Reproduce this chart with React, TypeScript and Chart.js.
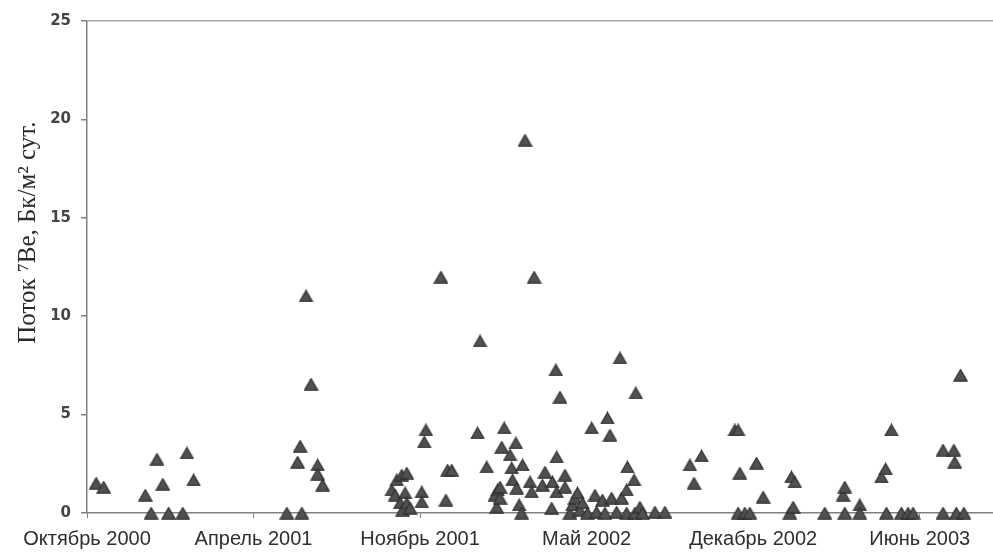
import React, { useEffect, useRef } from "react";
import { Chart, registerables } from "chart.js";

Chart.register(...registerables);

// Axis labels (one every 200 days from October 2000)
const tickLabels = ["Октябрь 2000", "Апрель 2001", "Ноябрь 2001", "Май 2002", "Декабрь 2002", "Июнь 2003"];
const tickStepDays = 200;
const xMaxDays = 1088;
const yTicks = [0, 5, 10, 15, 20, 25];
const yTitle = "Поток ⁷Be, Бк/м² сут.";

// Sampling day (days since the first axis tick)
const days = [
  11, 20, 70, 77, 84, 91, 98, 115, 120, 128,
  240, 253, 256, 258, 263, 269, 277, 277, 283,
  366, 370, 372, 376, 378, 379, 382, 384, 384, 388,
  402, 402, 405, 407, 425, 431, 433, 438,
  469, 472, 480, 490, 492, 493, 496, 496, 498, 501,
  508, 510, 511, 515, 516, 519, 522, 523, 526,
  532, 534, 537, 547, 550, 558, 559, 563, 564, 564, 568,
  574, 574, 580, 583, 586, 589, 592, 595,
  601, 606, 610, 612, 619, 622, 625, 628, 630, 636, 640, 642, 648, 648, 649,
  657, 658, 659, 664, 667, 682, 694,
  724, 729, 738, 778, 782, 782, 784, 790, 796, 804, 812,
  844, 846, 848, 850, 886, 908, 910, 910, 928, 928,
  954, 959, 960, 966, 978, 986, 992,
  1028, 1028, 1041, 1042, 1044, 1049, 1053,
];

// 7Be flux, Bq/m2 per day
const flux = [
  1.52, 1.32, 0.91, 0, 2.74, 1.47, 0, 0, 3.05, 1.68,
  0, 2.59, 3.4, 0, 11.03, 6.55, 2.44, 1.98, 1.42,
  1.17, 0.91, 1.68, 0.51, 1.93, 0.15, 1.02, 2.03, 0.51, 0.25,
  1.07, 0.56, 3.61, 4.22, 11.99, 0.66, 2.18, 2.18,
  4.07, 8.74, 2.34, 0.91, 0.3, 1.17, 1.32, 0.76, 3.35, 4.32,
  2.95, 2.29, 1.68, 3.56, 1.27, 0.41, 0, 2.44, 18.95,
  1.58, 1.07, 11.99, 1.42, 2.08, 0.25, 1.58, 7.27, 1.07, 2.85, 5.89,
  1.93, 1.32, 0, 0.41, 0.76, 1.02, 0.15, 0.51,
  0, 4.32, 0.91, 0.05, 0.66, 0, 4.83, 3.96, 0.76, 0.05, 7.88, 0.76, 1.17, 0, 2.34,
  1.68, 0, 6.1, 0.3, 0, 0.05, 0.05,
  2.44, 1.52, 2.9, 4.22, 4.22, 0, 2.03, 0, 0, 2.54, 0.81,
  0, 1.83, 0.3, 1.58, 0, 0.91, 1.32, 0, 0.41, 0,
  1.83, 2.24, 0, 4.22, 0, 0, 0,
  3.2, 0, 3.2, 2.59, 0, 7.01, 0,
];

function makeTriangle(): HTMLCanvasElement {
  const c = document.createElement("canvas");
  c.width = 15;
  c.height = 13;
  const g = c.getContext("2d")!;
  g.beginPath();
  g.moveTo(1, 12.2);
  g.lineTo(7.5, 1);
  g.lineTo(14, 12.2);
  g.closePath();
  g.fillStyle = "#515151";
  g.fill();
  g.lineWidth = 1.2;
  g.strokeStyle = "#2f2f2f";
  g.stroke();
  return c;
}

const yTitlePlugin = {
  id: "yTitlePlugin",
  afterDraw(chart: any) {
    const { ctx, chartArea } = chart;
    const cy = chartArea.top + (chartArea.bottom - chartArea.top) * 0.43;
    ctx.save();
    ctx.translate(28, cy);
    ctx.rotate(-Math.PI / 2);
    ctx.font = '25px "Liberation Serif"';
    ctx.fillStyle = "#2a2a2a";
    ctx.textAlign = "center";
    ctx.textBaseline = "middle";
    ctx.fillText(yTitle, 0, 0);
    ctx.restore();
  },
};

export default function App() {
  const ref = useRef<HTMLCanvasElement | null>(null);

  useEffect(() => {
    if (!ref.current) return;
    const tri = makeTriangle();
    const chart = new Chart(ref.current, {
      type: "scatter",
      data: {
        datasets: [
          {
            data: days.map((d, i) => ({ x: d, y: flux[i] })),
            pointStyle: tri as any,
            pointRadius: 7,
            clip: false as any,
          },
        ],
      },
      options: {
        animation: false,
        responsive: false,
        devicePixelRatio: 1,
        layout: { autoPadding: false, padding: { top: 21, right: 0, left: 0, bottom: 0 } },
        plugins: { legend: { display: false }, tooltip: { enabled: false } },
        scales: {
          x: {
            type: "linear",
            min: 0,
            max: xMaxDays,
            afterBuildTicks: (s: any) => {
              s.ticks = tickLabels.map((_, i) => ({ value: i * tickStepDays }));
            },
            afterFit: (s: any) => {
              s.height = 40;
              s.paddingLeft = 0;
              s.paddingRight = 0;
            },
            ticks: {
              autoSkip: false,
              maxRotation: 0,
              padding: 9,
              color: "#2e2e2e",
              font: { family: "Liberation Sans", size: 20 },
              callback: (v: any) => tickLabels[Math.round(Number(v) / tickStepDays)] ?? "",
            },
            grid: { drawOnChartArea: false, drawTicks: true, tickLength: 5, tickColor: "#808080" },
            border: { color: "#808080", width: 1.5 },
          },
          y: {
            min: yTicks[0],
            max: yTicks[yTicks.length - 1],
            afterBuildTicks: (s: any) => {
              s.ticks = yTicks.map((v) => ({ value: v }));
            },
            afterFit: (s: any) => {
              s.width = 87;
            },
            ticks: {
              padding: 10,
              color: "#444",
              font: { family: "DejaVu Sans", size: 15, weight: "bold" },
            },
            grid: {
              color: (c: any) => (c.tick && c.tick.value === 25 ? "#a8a8a8" : "rgba(0,0,0,0)"),
              tickColor: "#808080",
              tickLength: 6,
              lineWidth: 1.5,
            },
            border: { color: "#808080", width: 1.5 },
          },
        },
      },
      plugins: [yTitlePlugin],
    });
    return () => chart.destroy();
  }, []);

  return (
    <div style={{ position: "fixed", left: 0, top: 0, width: 993, height: 553, background: "#fff" }}>
      <canvas ref={ref} width={993} height={553} style={{ width: 993, height: 553 }} />
    </div>
  );
}
